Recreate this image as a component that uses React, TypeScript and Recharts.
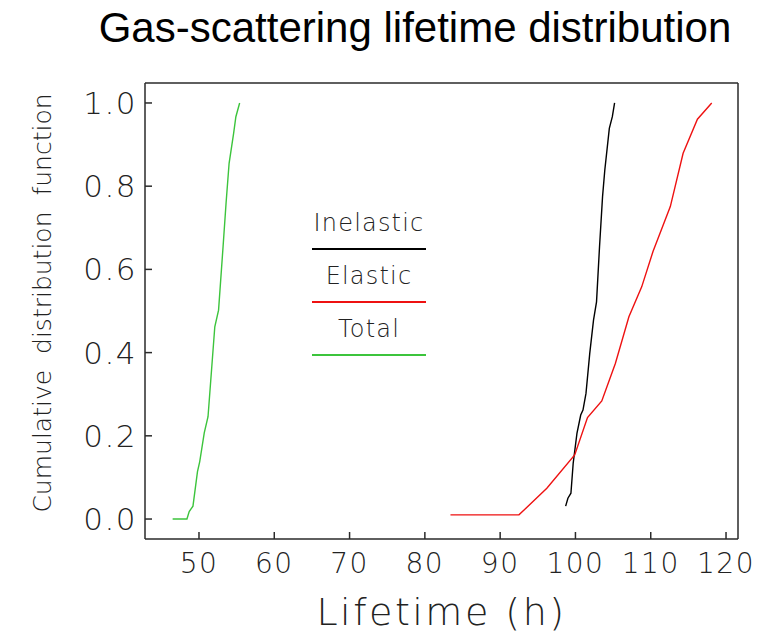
import React from "react";
import { LineChart, Line, XAxis, YAxis } from "recharts";

// Gas-scattering lifetime CDFs
const inelasticLifetime = [98.7, 99.0, 99.4, 99.7, 100.2, 100.7, 101.0, 101.4, 101.9, 102.4, 102.8, 103.2, 103.6, 103.9, 104.5, 104.9, 105.2];
const inelasticCdf = [0.031, 0.05, 0.062, 0.134, 0.206, 0.25, 0.262, 0.302, 0.398, 0.478, 0.522, 0.655, 0.775, 0.839, 0.939, 0.967, 1.0];

const elasticLifetime = [83.4, 92.5, 96.2, 99.9, 101.6, 103.5, 105.3, 107.1, 108.8, 110.3, 112.6, 114.3, 116.2, 118.1];
const elasticCdf = [0.01, 0.01, 0.074, 0.154, 0.244, 0.284, 0.374, 0.486, 0.558, 0.643, 0.751, 0.879, 0.961, 1.0];

const totalLifetime = [46.5, 48.4, 48.7, 49.2, 49.8, 50.1, 50.7, 51.2, 51.7, 52.1, 52.6, 53.2, 53.6, 54.0, 54.6, 54.9, 55.4];
const totalCdf = [0.0, 0.0, 0.018, 0.031, 0.114, 0.138, 0.207, 0.246, 0.366, 0.462, 0.502, 0.655, 0.76, 0.855, 0.927, 0.967, 1.0];

const xTicks = [50, 60, 70, 80, 90, 100, 110, 120];
const yTicks = [0, 0.2, 0.4, 0.6, 0.8, 1.0];

const X_DOMAIN: [number, number] = [42.83, 121.59];
const Y_DOMAIN: [number, number] = [-0.048, 1.048];

const toPoints = (xs: number[], ys: number[]) => xs.map((x, i) => ({ x, y: ys[i] }));

const SERIES = [
  { name: "Inelastic", color: "#000000", data: toPoints(inelasticLifetime, inelasticCdf) },
  { name: "Elastic", color: "#ee1111", data: toPoints(elasticLifetime, elasticCdf) },
  { name: "Total", color: "#3cc43c", data: toPoints(totalLifetime, totalCdf) },
];

const AXIS = "#2a2a2a";
const THIN = { fontFamily: "DejaVu Sans", fontWeight: 200 };

const XLabel = (props: any) => {
  const vb = props.viewBox || { x: 145, y: 539, width: 593, height: 95 };
  return (
    <text x={vb.x + vb.width / 2} y={vb.y + vb.height - 9} textAnchor="middle" fontSize={38} fill="#222" letterSpacing={2.5} style={THIN}>
      Lifetime (h)
    </text>
  );
};

const YLabel = (props: any) => {
  const vb = props.viewBox || { x: 0, y: 83, width: 145, height: 456 };
  const cx = 42;
  const cy = vb.y + vb.height / 2 - 8;
  return (
    <text x={cx} y={cy} transform={`rotate(-90 ${cx} ${cy})`} textAnchor="middle" dominantBaseline="central" fontSize={25} fill="#222" wordSpacing={8} style={THIN}>
      Cumulative distribution function
    </text>
  );
};

export default function App() {
  return (
    <div style={{ position: "absolute", left: 0, top: 0, width: 769, height: 634, background: "#fff" }}>
      <div
        style={{
          position: "absolute",
          left: 0,
          top: 2,
          width: 830,
          textAlign: "center",
          fontFamily: "Liberation Sans",
          fontSize: 42,
          lineHeight: "52px",
          color: "#000",
        }}
      >
        Gas-scattering lifetime distribution
      </div>

      <LineChart width={769} height={634} margin={{ top: 82, right: 30, bottom: 0, left: 0 }}>
        <XAxis
          xAxisId="bottom"
          type="number"
          dataKey="x"
          domain={X_DOMAIN}
          ticks={xTicks}
          allowDataOverflow
          height={95}
          stroke={AXIS}
          strokeWidth={1.5}
          tickSize={-7}
          tickMargin={21}
          tick={{ fontSize: 28, fill: "#222", letterSpacing: 1.5, ...THIN }}
          label={<XLabel />}
        />
        <XAxis
          xAxisId="top"
          orientation="top"
          type="number"
          dataKey="x"
          domain={X_DOMAIN}
          ticks={xTicks}
          allowDataOverflow
          height={1}
          stroke={AXIS}
          strokeWidth={1.5}
          tickSize={-7}
          tick={false}
        />
        <YAxis
          yAxisId="left"
          type="number"
          dataKey="y"
          domain={Y_DOMAIN}
          ticks={yTicks}
          allowDataOverflow
          width={145}
          stroke={AXIS}
          strokeWidth={1.5}
          tickSize={-7}
          tickMargin={15}
          tickFormatter={(v: number) => v.toFixed(1)}
          tick={{ fontSize: 31, fill: "#222", letterSpacing: 1.5, ...THIN }}
          label={<YLabel />}
        />
        <YAxis
          yAxisId="right"
          orientation="right"
          type="number"
          dataKey="y"
          domain={Y_DOMAIN}
          ticks={yTicks}
          allowDataOverflow
          width={1}
          stroke={AXIS}
          strokeWidth={1.5}
          tickSize={-7}
          tick={false}
        />
        {SERIES.map((s) => (
          <Line
            key={s.name}
            xAxisId="bottom"
            yAxisId="left"
            data={s.data}
            dataKey="y"
            name={s.name}
            type="linear"
            stroke={s.color}
            strokeWidth={1.4}
            dot={false}
            activeDot={false}
            isAnimationActive={false}
          />
        ))}
      </LineChart>

      {/* legend drawn inside the plot, label above its line sample */}
      <div style={{ position: "absolute", left: 312, top: 206, width: 114 }}>
        {SERIES.map((s) => (
          <div key={s.name} style={{ height: 53, position: "relative" }}>
            <div
              style={{
                position: "absolute",
                left: 0,
                top: 0,
                width: 114,
                textAlign: "center",
                fontSize: 24,
                lineHeight: "34px",
                letterSpacing: 1.2,
                color: "#222",
                ...THIN,
              }}
            >
              {s.name}
            </div>
            <div style={{ position: "absolute", left: 0, top: 42, width: 114, height: 2, background: s.color }} />
          </div>
        ))}
      </div>
    </div>
  );
}
